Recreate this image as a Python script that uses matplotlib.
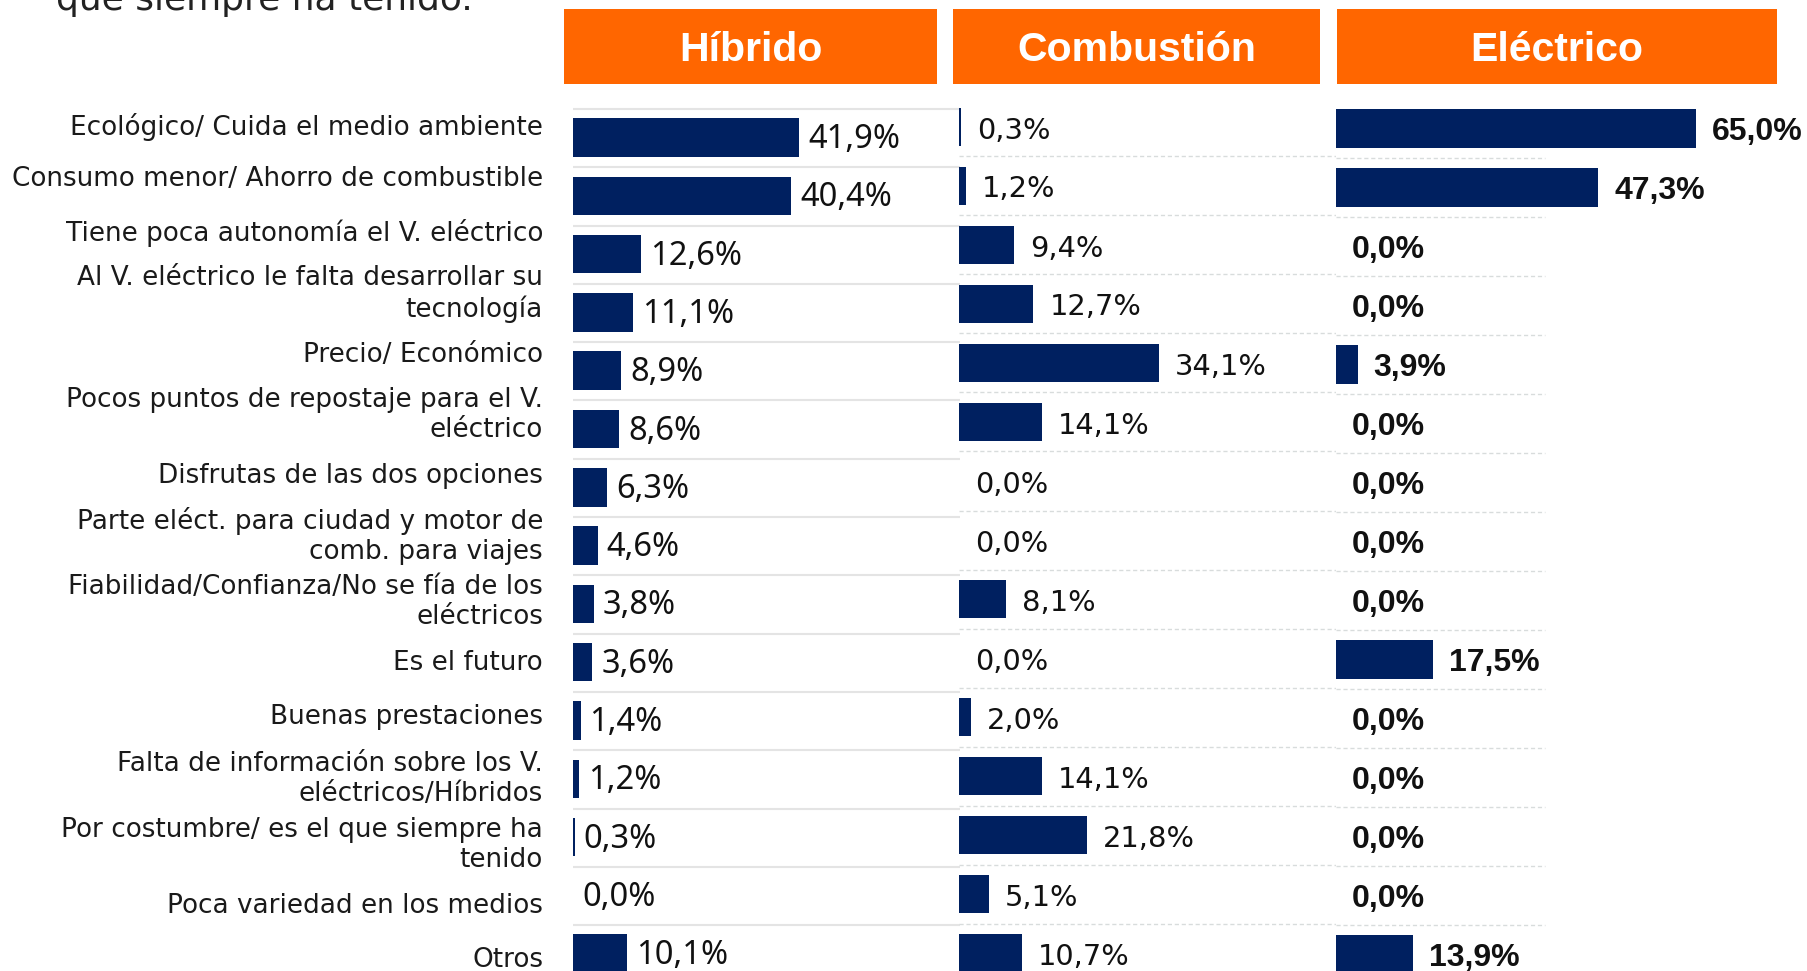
"""Motivos de elección por tipo de vehículo: híbrido, combustión, eléctrico.

Three horizontal bar panels side by side with orange headers, category
labels on the left. Saved as out.png (1808x971).
"""

import matplotlib

matplotlib.use("Agg")
import matplotlib.pyplot as plt
from matplotlib.patches import Rectangle

# ---- data -----------------------------------------------------------------
categories = [
    "Ecológico/ Cuida el medio ambiente",
    "Consumo menor/ Ahorro de combustible",
    "Tiene poca autonomía el V. eléctrico",
    "Al V. eléctrico le falta desarrollar su\ntecnología",
    "Precio/ Económico",
    "Pocos puntos de repostaje para el V.\neléctrico",
    "Disfrutas de las dos opciones",
    "Parte eléct. para ciudad y motor de\ncomb. para viajes",
    "Fiabilidad/Confianza/No se fía de los\neléctricos",
    "Es el futuro",
    "Buenas prestaciones",
    "Falta de información sobre los V.\neléctricos/Híbridos",
    "Por costumbre/ es el que siempre ha\ntenido",
    "Poca variedad en los medios",
    "Otros",
]
panel_titles = ["Híbrido", "Combustión", "Eléctrico"]
hibrido = [41.9, 40.4, 12.6, 11.1, 8.9, 8.6, 6.3, 4.6, 3.8, 3.6, 1.4, 1.2, 0.3, 0.0, 10.1]
combustion = [0.3, 1.2, 9.4, 12.7, 34.1, 14.1, 0.0, 0.0, 8.1, 0.0, 2.0, 14.1, 21.8, 5.1, 10.7]
electrico = [65.0, 47.3, 0.0, 0.0, 3.9, 0.0, 0.0, 0.0, 0.0, 17.5, 0.0, 0.0, 0.0, 0.0, 13.9]
top_text = "que siempre ha tenido."

# ---- layout (pixels) ------------------------------------------------------
W, H = 1808, 971
NAVY = "#002060"
ORANGE = "#FF6600"

# y centre (px from top) of each category label
label_y = [127, 179, 233, 294, 355, 415, 476, 536, 602, 663, 717, 779, 845, 906, 960]


def fx(px):
    return px / W


def fy(py):
    return 1 - py / H


def pct(v):
    return f"{v:.1f}".replace(".", ",") + "%"


fig = plt.figure(figsize=(W / 100, H / 100), dpi=100)
fig.patch.set_facecolor("white")

# cut-off sentence from the slide above
fig.text(fx(56), fy(10), top_text, ha="left", va="baseline",
         fontsize=25.9, color="#222222", family="DejaVu Sans")

# headers
headers = [(564, 937), (953, 1320), (1337, 1777)]
for (x0, x1), title in zip(headers, panel_titles):
    fig.add_artist(Rectangle((fx(x0), fy(84)), fx(x1 - x0), 75 / H,
                             transform=fig.transFigure, facecolor=ORANGE,
                             edgecolor="none"))
    fig.text(fx((x0 + x1) / 2), fy(50), title, ha="center", va="center",
             color="white", fontsize=29.5, fontweight="bold",
             family="Liberation Sans")

# category labels
for lab, y in zip(categories, label_y):
    fig.text(fx(543), fy(y), lab, ha="right", va="center", fontsize=18.9,
             color="#1a1a1a", family="DejaVu Sans", linespacing=1.24)

# one dict per panel: values, pixel extent, px per %, row centre/pitch in px
panels = [
    dict(vals=hibrido, left=573, right=960, scale=5.395, row0=137.5, pitch=58.3,
         bh=0.66, grid="top", gap=9, dy=2,
         font=dict(family="Noto Sans", fontsize=23.5, color="#111111")),
    dict(vals=combustion, left=959, right=1336, scale=5.86, row0=127, pitch=59,
         bh=0.63, grid="between", gap=16, dy=3.5,
         font=dict(family="DejaVu Sans", fontsize=20.8, color="#111111")),
    dict(vals=electrico, left=1336, right=1808, scale=5.54, row0=128.5, pitch=59,
         bh=0.645, grid="between", gap=16, dy=3.5, grid_end=1545,
         font=dict(family="Liberation Sans", fontsize=23, fontweight="bold",
                   color="#111111")),
]

n = len(categories)
idx = list(range(n))
for p in panels:
    ax = fig.add_axes([fx(p["left"]), 0, fx(p["right"] - p["left"]), 1])
    ax.set_axis_off()
    xmax = (p["right"] - p["left"]) / p["scale"]
    ax.set_xlim(0, xmax)
    ax.set_ylim((H - p["row0"]) / p["pitch"], -p["row0"] / p["pitch"])

    grid_x = (p.get("grid_end", p["right"]) - p["left"]) / p["scale"]
    if p["grid"] == "top":
        ax.hlines([i - 0.49 for i in idx], 0, grid_x, color="#E4E4E4", lw=1.5,
                  zorder=0)
    else:
        ax.hlines([i + 0.5 for i in idx[:-1]], 0, grid_x, color="#D8DCDC",
                  lw=1.0, linestyles=(0, (3, 2)), zorder=0)

    ax.barh(idx, p["vals"], height=p["bh"], color=NAVY, linewidth=0, zorder=2)
    for i, v in zip(idx, p["vals"]):
        ax.text(v + p["gap"] / p["scale"], i + p["dy"] / p["pitch"], pct(v),
                ha="left", va="center", clip_on=False, **p["font"])

fig.savefig("out.png", dpi=100)
plt.close(fig)
